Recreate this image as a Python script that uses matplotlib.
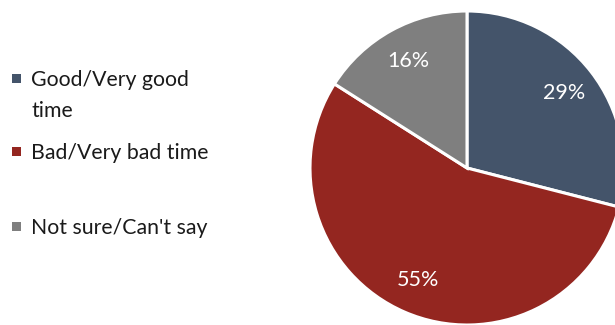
import matplotlib

matplotlib.use("Agg")
import matplotlib.pyplot as plt
from matplotlib.patches import Rectangle

categories = ["Good/Very good\ntime", "Bad/Very bad time", "Not sure/Can't say"]
shares = [29, 55, 16]
colors = ["#44546A", "#942620", "#7F7F7F"]

plt.rcParams["font.family"] = ["Lato", "DejaVu Sans"]

fig = plt.figure(figsize=(6.15, 3.25), dpi=100)

# pie axes: square box, partly outside the right edge of the figure
ax = fig.add_axes([310 / 615, 0.0, 314 / 615, 314 / 325])
wedges, texts, autotexts = ax.pie(
    shares,
    colors=colors,
    startangle=90,
    counterclock=False,
    autopct=lambda p: f"{p:.0f}%",
    pctdistance=0.78,
    wedgeprops=dict(edgecolor="white", linewidth=2.2),
    textprops=dict(color="white", fontsize=15.5),
)
ax.set_xlim(-1, 1)
ax.set_ylim(-1, 1)

# legend on the left, drawn as squares plus text (baselines in pixels from top)
baselines = [88, 161, 236]
for label, color, y in zip(categories, colors, baselines):
    fig.patches.append(
        Rectangle((12 / 615, 1 - (y - 5) / 325), 9 / 615, 9 / 325,
                  transform=fig.transFigure, facecolor=color, edgecolor="none")
    )
    fig.text(31 / 615, 1 - (y - 18) / 325, label, fontsize=15.3, color="#1a1a1a",
             va="top", ha="left", linespacing=1.68)

fig.savefig("out.png", dpi=100)
